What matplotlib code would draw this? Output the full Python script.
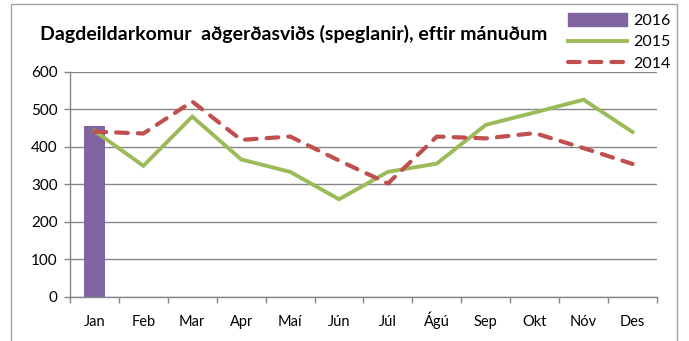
import matplotlib
matplotlib.use("Agg")
import matplotlib.pyplot as plt
from matplotlib.patches import Rectangle, Patch
from matplotlib.lines import Line2D
import numpy as np

plt.rcParams['font.family'] = ['Lato', 'DejaVu Sans']

manudir = ["Jan", "Feb", "Mar", "Apr", "Maí", "Jún", "Júl", "Ágú", "Sep", "Okt", "Nóv", "Des"]
ar_2016 = [456]
ar_2015 = [442, 349, 480, 366, 333, 260, 333, 355, 458, 491, 525, 439]
ar_2014 = [440, 435, 520, 418, 427, 363, 302, 427, 422, 436, 396, 354]

fjolubl = "#8064A2"
graent = "#9BBB59"
rautt = "#C0504D"
grar = "#868686"

fig = plt.figure(figsize=(6.89, 3.41), dpi=100)
W, H = 689, 341

# rammi utan um myndina
fig.patches.append(Rectangle((11 / W, -0.1), (677 - 11) / W, 1.1 - 4 / H,
                             transform=fig.transFigure, fill=False,
                             edgecolor="#A0A0A0", linewidth=1.0))

ax = fig.add_axes([70 / W, 1 - 297 / H, (657 - 70) / W, (297 - 71.5) / H])
x = np.arange(len(manudir))

ax.bar(x[:len(ar_2016)], ar_2016, width=0.42, color=fjolubl, zorder=2)
ax.plot(x, ar_2015, color=graent, linewidth=2.8, zorder=3, solid_joinstyle="miter")
ax.plot(x, ar_2014, color=rautt, linewidth=3.0, dashes=(2.8, 2.4),
        dash_capstyle="round", zorder=4)

ax.set_xlim(-0.5, 11.5)
ax.set_ylim(0, 600)
ax.set_yticks(range(0, 601, 100))
ax.set_xticks(x)
ax.set_xticklabels(manudir)
ax.set_xticks(np.arange(-0.5, 12, 1), minor=True)
ax.tick_params(axis="x", which="major", length=0, pad=21, labelsize=10.5, colors="black")
ax.tick_params(axis="x", which="minor", length=4, color=grar, width=1)
ax.tick_params(axis="y", length=4, color=grar, width=1, pad=5, labelsize=11)
# allir mánuðir á sömu grunnlínu, líka Ágú
for lbl in ax.get_xticklabels():
    lbl.set_va("baseline")
ax.yaxis.grid(True, color=grar, linewidth=1)
ax.set_axisbelow(True)
for s in ["top", "right"]:
    ax.spines[s].set_visible(False)
for s in ["left", "bottom"]:
    ax.spines[s].set_color(grar)
    ax.spines[s].set_linewidth(1)

fig.text(40 / W, 1 - 34 / H, "Dagdeildarkomur  aðgerðasviðs (speglanir), eftir mánuðum",
         fontsize=14, fontweight="bold", va="center", ha="left")

handles = [Patch(color=fjolubl),
           Line2D([], [], color=graent, linewidth=2.8),
           Line2D([], [], color=rautt, linewidth=3.0, dashes=(2.8, 2.4),
                  dash_capstyle="round")]
fig.legend(handles, ["2016", "2015", "2014"], loc="upper right",
           bbox_to_anchor=(677 / W, 1 - 7 / H), frameon=False, fontsize=11.5,
           handlelength=3.7, handleheight=0.8, handletextpad=0.4,
           labelspacing=0.42, borderaxespad=0)

fig.savefig("out.png", dpi=100)
